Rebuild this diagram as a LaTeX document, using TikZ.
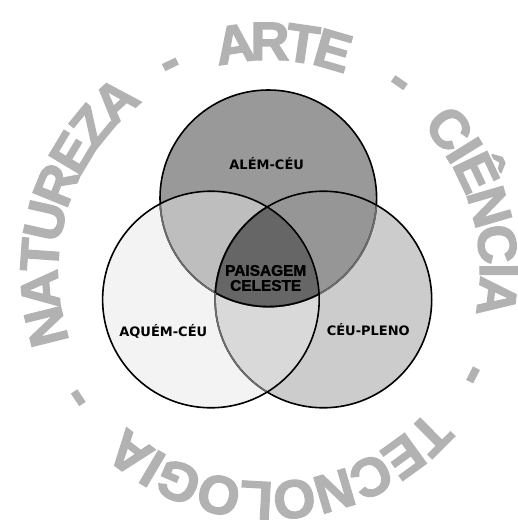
\documentclass[tikz,border=0pt]{standalone}
\usepackage{fontspec}
\setmainfont{Liberation Sans}
\newfontfamily\ringfont{Liberation Sans Bold}[FakeBold=2.5]
\newfontfamily\midfont{Liberation Sans Bold}[FakeBold=1.5]
\newfontfamily\labfont{DejaVu Sans Bold}
\definecolor{ringgray}{RGB}{178,178,178}
\definecolor{topc}{RGB}{153,153,153}
\definecolor{leftc}{RGB}{243,243,243}
\definecolor{rightc}{RGB}{204,204,204}
\definecolor{tlc}{RGB}{190,190,190}
\definecolor{trc}{RGB}{150,150,150}
\definecolor{lrc}{RGB}{217,217,217}
\definecolor{midc}{RGB}{102,102,102}
\definecolor{hidc}{RGB}{110,110,110}
\begin{document}
\begin{tikzpicture}[x=1pt,y=1pt,
  ring/.style={text=ringgray, font=\ringfont\fontsize{54}{54}\selectfont, anchor=base, inner sep=0pt},
  lab/.style={font=\labfont\fontsize{13}{13}\selectfont, text=black, inner sep=0pt},
  midlab/.style={font=\midfont\fontsize{15.4}{15}\selectfont, text=black, align=center, inner sep=0pt},
  edge/.style={line width=1.6pt, draw=black},
  hidden/.style={line width=1.6pt, draw=hidc}]
\useasboundingbox (0,0) rectangle (518,520);
\fill[white] (0,0) rectangle (518,520);
% circle centres
\coordinate (T) at (268.3,321.7);
\coordinate (L) at (210.9,220.5);
\coordinate (R) at (323.4,220.5);
\def\rr{108.3}
% fills
\fill[topc] (T) circle (\rr);
\fill[leftc] (L) circle (\rr);
\fill[rightc] (R) circle (\rr);
\begin{scope}\clip (T) circle (\rr); \fill[tlc] (L) circle (\rr); \end{scope}
\begin{scope}\clip (T) circle (\rr); \fill[trc] (R) circle (\rr); \end{scope}
\begin{scope}\clip (L) circle (\rr); \fill[lrc] (R) circle (\rr); \end{scope}
\begin{scope}\clip (T) circle (\rr); \clip (L) circle (\rr); \fill[midc] (R) circle (\rr); \end{scope}
% outlines
\draw[edge] (T) circle (\rr);
\begin{scope}\clip (L) circle (\rr); \draw[hidden] (T) circle (\rr); \end{scope}
\begin{scope}\clip (R) circle (\rr); \draw[hidden] (T) circle (\rr); \end{scope}
\begin{scope}\clip (L) circle (\rr); \clip (R) circle (\rr); \draw[edge] (T) circle (\rr); \end{scope}
\draw[edge] (R) circle (\rr);
\begin{scope}\clip (L) circle (\rr); \draw[hidden] (R) circle (\rr); \end{scope}
\begin{scope}\clip (L) circle (\rr); \clip (T) circle (\rr); \draw[edge] (R) circle (\rr); \end{scope}
\draw[edge] (L) circle (\rr);
% labels
\node[lab] (alem) at (266.7,356.7) {ALÉM-CÉU};
\node[lab] (aquem) at (163.3,188.3) {AQUÉM-CÉU};
\node[lab] (pleno) at (368.3,190) {CÉU-PLENO};
\node[midlab] (pais) at (265.7,242) {PAISAGEM\\CELESTE};
% ring text
\begin{scope}[shift={(269,249)}]
\foreach \ch/\a [count=\i] in {N/194,A/184.63,T/175.98,U/167.33,R/157.96,E/148.95,Z/140.66,A/132,
  A/98.6,R/89.77,T/81.62,E/73.8,
  C/38.3,I/31.69,Ê/25.44,N/16.26,C/6.71,I/0.10,A/-6.51,
  T/-45.3,E/-54.04,C/-63.54,N/-73.42,O/-83.68,L/-93.18,O/-102.68,G/-113.32,I/-120.54,A/-127.38}
  \node[ring, rotate=\a-90] (r\i) at (\a:211) {\ch};
\foreach \a [count=\i] in {115.5,55.3,-27,-146.4}
  \node[ring, rotate=\a-90] (d\i) at (\a:215) {-};
\end{scope}
\end{tikzpicture}
\end{document}
